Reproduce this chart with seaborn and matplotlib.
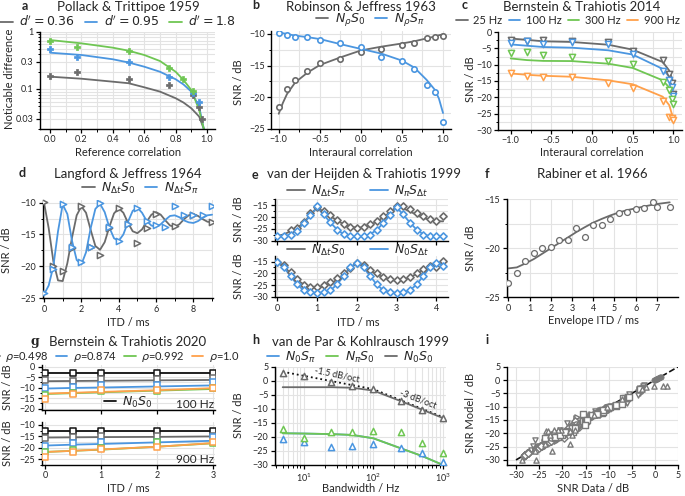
import matplotlib
matplotlib.use('Agg')
import matplotlib.pyplot as plt
import seaborn as sns
from matplotlib.lines import Line2D
from matplotlib.ticker import MultipleLocator, FixedLocator, LogLocator, NullFormatter

# ---------------- data ----------------
# a: Pollack & Trittipoe 1959
a_grey_x = [0.0, 0.17, 0.5, 0.76, 0.91, 0.95, 0.97]
a_grey_y = [0.169, 0.195, 0.151, 0.116, 0.0785, 0.049, 0.030]
a_blue_x = [0.0, 0.17, 0.5, 0.76, 0.91, 0.95]
a_blue_y = [0.493, 0.366, 0.292, 0.164, 0.084, 0.060]
a_green_x = [0.0, 0.17, 0.5, 0.76, 0.85, 0.91]
a_green_y = [0.689, 0.533, 0.466, 0.229, 0.148, 0.093]
a_line_x = [0.0, 0.2, 0.4, 0.5, 0.6, 0.7, 0.8, 0.85, 0.9, 0.95, 0.98]
a_grey_line = [0.164, 0.151, 0.134, 0.126, 0.107, 0.090, 0.069, 0.058, 0.046, 0.033, 0.020]
a_blue_line = [0.43, 0.392, 0.33, 0.29, 0.245, 0.20, 0.148, 0.12, 0.09, 0.049, 0.020]
a_green_line = [0.716, 0.626, 0.526, 0.466, 0.392, 0.308, 0.20, 0.144, 0.096, 0.043, 0.020]
a_labels = ["$d' = 0.36$", "$d' = 0.95$", "$d' = 1.8$"]

# b: Robinson & Jeffress 1963
b_x = [-1.0, -0.9, -0.8, -0.65, -0.5, -0.25, 0.0, 0.25, 0.5, 0.65, 0.8, 0.9, 1.0]
b_s0_data = [-21.5, -18.7, -17.3, -15.8, -14.6, -13.9, -12.9, -12.4, -11.8, -11.4, -10.7, -10.5, -10.3]
b_spi_data = [-9.9, -10.2, -10.5, -10.5, -10.9, -11.5, -12.1, -13.6, -14.25, -15.6, -18.1, -19.1, -23.9]
b_line_x = [-1.0, -0.95, -0.9, -0.8, -0.65, -0.5, -0.25, 0.0, 0.25, 0.5, 0.65, 0.8, 0.9, 0.95, 1.0]
b_s0_line = [-22.6, -20.9, -19.5, -17.66, -16.1, -14.9, -13.7, -12.6, -12.0, -11.5, -11.15, -10.7, -10.4, -10.2, -10.05]
b_spi_line = [-9.74, -9.87, -10.0, -10.26, -10.5, -10.8, -11.6, -12.36, -13.1, -14.2, -15.3, -17.24, -18.8, -20.2, -22.48]
b_labels = [r'$N_\rho S_0$', r'$N_\rho S_\pi$']

# c: Bernstein & Trahiotis 2014
c_x = [-1.0, -0.8, -0.6, -0.25, 0.2, 0.5, 0.87, 0.95, 0.98, 1.0]
c_25_data = [-2.5, -2.7, -2.3, -2.9, -3.1, -5.7, -8.7, -12.9, -15.5, -19.0]
c_100_data = [-3.4, -2.8, -3.6, -3.2, -3.6, -6.8, -11.9, -14.8, -16.8, -19.5]
c_300_data = [-6.3, -6.1, -7.1, -7.6, -9.0, -9.9, -15.4, -17.8, -20.5, -22.0]
c_900_data = [-12.5, -13.5, -13.7, -13.9, -15.5, -17.0, -21.1, -25.9, -26.4, -26.8]
c_25_line = [-2.0, -2.4, -2.85, -3.05, -3.9, -5.4, -9.2, -11.8, -14.0, -16.0]
c_100_line = [-3.8, -4.2, -4.6, -4.8, -5.6, -6.9, -11.3, -13.7, -16.0, -19.8]
c_300_line = [-8.1, -8.6, -8.85, -8.9, -9.7, -11.0, -14.8, -17.0, -18.8, -20.3]
c_900_line = [-12.7, -13.1, -13.4, -13.7, -14.8, -16.0, -19.8, -22.4, -24.9, -26.4]
c_labels = ['25 Hz', '100 Hz', '300 Hz', '900 Hz']

# d: Langford & Jeffress 1964
d_line_x = [0, 0.25, 0.5, 0.75, 1, 1.25, 1.5, 1.75, 2, 2.25, 2.5, 2.75, 3, 3.25, 3.5, 3.75,
            4, 4.25, 4.5, 4.75, 5, 5.25, 5.5, 5.75, 6, 6.25, 6.5, 6.75, 7, 7.25, 7.5, 7.75,
            8, 8.25, 8.5, 8.75, 9]
d_s0_line = [-10.0, -14.0, -19.2, -22.2, -22.3, -19.5, -15.5, -12.0, -10.6, -11.6, -14.3, -16.8,
             -17.4, -16.2, -13.8, -11.7, -10.9, -11.6, -13.2, -14.5, -14.8, -14.2, -13.0, -11.9,
             -11.5, -11.9, -12.8, -13.6, -13.8, -13.4, -12.6, -12.0, -11.8, -12.1, -12.6, -13.0, -13.1]
d_spi_line = [-24.4, -23.0, -20.0, -14.5, -10.3, -11.8, -16.0, -19.0, -19.7, -17.8, -14.0, -11.0,
              -10.2, -11.5, -13.9, -15.6, -16.0, -15.0, -13.0, -11.3, -10.8, -11.6, -12.9, -13.6,
              -13.8, -13.4, -12.7, -12.1, -12.0, -12.3, -12.8, -13.1, -13.2, -12.9, -12.4, -12.0, -11.9]
d_s0_x = [0, 0.5, 1, 1.5, 2, 2.5, 3, 3.5, 4, 4.5, 5, 5.5, 6, 7, 8, 9]
d_s0_data = [-9.9, -20.0, -20.8, -17.1, -10.6, -17.0, -18.2, -14.0, -10.9, -13.4, -16.3, -14.0,
             -11.8, -13.6, -12.0, -13.0]
d_spi_x = [0, 0.5, 1, 1.5, 2, 2.5, 3, 3.5, 4, 4.5, 5, 5.5, 6, 6.5, 7, 7.5, 8, 8.5, 9]
d_spi_data = [-24.2, -20.4, -10.3, -16.9, -19.3, -16.9, -10.1, -13.9, -16.0, -13.4, -10.8, -12.9,
              -13.5, -13.8, -10.6, -12.0, -12.0, -12.0, -10.6]
d_labels = [r'$N_{\Delta t}S_0$', r'$N_{\Delta t}S_\pi$']

# e: van der Heijden & Trahiotis 1999
e_x = [0.0, 0.167, 0.333, 0.5, 0.667, 0.833, 1.0, 1.167, 1.333, 1.5, 1.667, 1.833, 2.0, 2.167,
       2.333, 2.5, 2.667, 2.833, 3.0, 3.167, 3.333, 3.5, 3.667, 3.833, 4.0, 4.167]
e_up_blue_data = [-28, -28, -27.6, -25.7, -22.7, -19.2, -15.4, -18.8, -22.2, -25.3, -27.3, -28, -28,
                  -28, -27.4, -25.6, -22.6, -19.0, -15.5, -18.8, -22.3, -25.4, -27.4, -28, -28, -28]
e_up_blue_line = [-28.2, -28.1, -27.4, -25.5, -22.6, -19.3, -15.8, -18.9, -22.3, -25.2, -27.3, -28.1,
                  -28.2, -28.1, -27.3, -25.4, -22.5, -19.1, -15.8, -19.0, -22.3, -25.3, -27.3, -28.1,
                  -28.2, -28.2]
e_up_grey_data = [-25.6, -24.4, -21.9, -18.3, -15.9, -17.6, -19.3, -21.1, -23.0, -24.0, -24.4, -24.1,
                  -23.0, -21.6, -19.7, -17.6, -15.1, -15.4, -16.4, -18.3, -19.7, -20.7, -21.6, -19.7]
e_up_grey_line = [-28.0, -27.3, -26.0, -24.6, -22.3, -19.0, -15.8, -17.8, -19.6, -21.4, -23.0, -24.0,
                  -24.5, -24.3, -23.3, -21.9, -20.0, -17.9, -15.5, -16.3, -17.6, -19.0, -20.3, -21.2,
                  -21.7, -21.8]
e_lo_blue_data = [-15.3, -17.3, -21.0, -24.7, -27.3, -28.0, -28.3, -28.0, -27.3, -24.7, -21.0, -17.3,
                  -15.5, -17.2, -21.0, -24.7, -27.3, -28.0, -28.3, -28.0, -27.3, -24.7, -21.0, -17.3,
                  -15.5, -16.7]
e_lo_blue_line = [-15.0, -17.5, -21.2, -24.8, -27.3, -28.2, -28.4, -28.2, -27.3, -24.8, -21.2, -17.5,
                  -15.3, -17.5, -21.2, -24.8, -27.3, -28.2, -28.4, -28.2, -27.3, -24.8, -21.2, -17.5,
                  -15.3, -16.8]
e_lo_grey_data = [-15.0, -16.5, -19.5, -22.5, -24.9, -25.7, -25.7, -25.0, -23.9, -21.9, -19.7, -17.7,
                  -15.7, -16.4, -18.6, -20.0, -21.4, -22.4, -22.9, -22.4, -21.4, -19.8, -18.2, -16.8,
                  -17.2, -14.9]
e_lo_grey_line = [-15.0, -17.0, -20.0, -22.8, -24.8, -25.9, -26.2, -25.7, -24.5, -22.7, -20.4, -17.9,
                  -15.6, -16.9, -18.7, -20.4, -21.8, -22.8, -23.2, -22.8, -21.8, -20.2, -18.4, -16.7,
                  -15.3, -15.8]
e_up_labels = [r'$N_{\Delta t}S_\pi$', r'$N_\pi S_{\Delta t}$']
e_lo_labels = [r'$N_{\Delta t}S_0$', r'$N_0 S_{\Delta t}$']

# f: Rabiner et al. 1966
f_x = [0, 0.4, 0.8, 1.2, 1.6, 2.0, 2.4, 2.8, 3.2, 3.6, 4.0, 4.4, 4.8, 5.2, 5.6, 6.0, 6.4, 6.8, 7.0, 7.6]
f_data = [-23.5, -22.5, -21.3, -20.5, -20.0, -19.9, -19.2, -19.2, -17.9, -18.8, -17.65, -17.65, -17.0,
          -16.4, -16.3, -15.95, -15.85, -15.3, -15.8, -15.8]
f_line = [-22.05, -21.95, -21.55, -21.1, -20.55, -20.0, -19.45, -18.9, -18.35, -17.85, -17.38, -17.0,
          -16.65, -16.35, -16.1, -15.92, -15.73, -15.55, -15.48, -15.31]

# g: Bernstein & Trahiotis 2020
g_x = [0, 0.5, 1, 2, 3]
g100_ref_data = [-3.2, -3.2, -3.2, -3.2, -3.2]
g100_ref_line = [-3.2, -3.2, -3.2, -3.2, -3.2]
g100_498_data = [-6.4, -6.9, -6.0, -5.8, -5.6]
g100_498_line = [-6.9, -6.8, -6.7, -6.5, -6.3]
g100_874_data = [-10.1, -9.8, -8.5, -8.5, -7.2]
g100_874_line = [-10.4, -10.1, -9.9, -9.4, -8.9]
g100_992_data = [-13.6, -12.6, -11.5, -11.4, -10.2]
g100_992_line = [-13.0, -12.6, -12.2, -11.4, -10.6]
g100_1_data = [-15.5, -12.8, -11.2, -11.2, -9.9]
g100_1_line = [-12.8, -12.4, -12.0, -11.2, -10.2]
g900_ref_data = [-12.6, -12.6, -12.6, -12.6, -12.6]
g900_ref_line = [-12.6, -12.6, -12.6, -12.6, -12.6]
g900_498_data = [-15.5, -15.2, -15.0, -14.8, -14.6]
g900_498_line = [-15.5, -15.4, -15.3, -15.2, -15.0]
g900_874_data = [-19.0, -18.0, -17.6, -17.3, -15.1]
g900_874_line = [-19.0, -18.6, -18.3, -17.6, -16.9]
g900_992_data = [-21.6, -21.0, -20.0, -17.6, -17.9]
g900_992_line = [-21.8, -21.3, -20.8, -19.5, -18.0]
g900_1_data = [-23.8, -21.6, -20.5, -19.5, -17.3]
g900_1_line = [-21.8, -21.3, -20.7, -19.5, -17.9]
g_labels = [r'$\rho$=0.498', r'$\rho$=0.874', r'$\rho$=0.992', r'$\rho$=1.0']

# h: van de Par & Kohlrausch 1999
h_x = [5, 10, 25, 50, 100, 250, 500, 1000]
h_n0s0_data = [2.6, 1.8, -0.3, -1.9, -2.9, -7.2, -10.4, -13.1]
h_n0s0_line = [-2.3, -2.3, -2.3, -2.5, -3.5, -7.3, -10.3, -13.3]
h_npis0_data = [-17.2, -20.3, -18.4, -18.4, -17.9, -18.4, -22.3, -25.6]
h_npis0_line = [-18.7, -18.8, -19.0, -19.3, -20.5, -24.1, -26.8, -30.0]
h_n0spi_data = [-20.9, -21.9, -23.5, -23.2, -22.6, -23.8, -25.8, -28.8]
h_n0spi_line = [-18.7, -18.8, -19.0, -19.3, -20.5, -24.1, -26.8, -30.0]
h_ref_x = [5, 100, 1000]
h_ref_y = [3.2, -3.0, -13.0]
h_labels = [r'$N_0 S_\pi$', r'$N_\pi S_0$', r'$N_0 S_0$']

# i: pooled model vs data (panel a part read separately)
i_a_data = [-0.2, 0.0, 0.2, 0.35, 0.5, 0.65, 0.8, 1.0, 1.2]
i_a_model = [-0.1, 0.1, 0.25, 0.35, 0.5, 0.6, 0.8, 0.95, 1.1]

# ---------------- style ----------------
sns.set_theme(style='ticks')
plt.rcParams['font.family'] = ['Lato', 'DejaVu Sans']
plt.rcParams['mathtext.fontset'] = 'dejavusans'
plt.rcParams['axes.unicode_minus'] = True

GREY = '#6b6b6b'
BLUE = '#4b96e0'
GREEN = '#6fc653'
ORANGE = '#ffa04a'
BLACK = '#111111'
IGREY = '#7a7a7a'

W, H = 685, 496
fig = plt.figure(figsize=(W / 100, H / 100), dpi=100)


def add_ax(x0, top, x1, bottom):
    ax = fig.add_axes([x0 / W, 1 - bottom / H, (x1 - x0) / W, (bottom - top) / H])
    sns.despine(ax=ax)
    for s in ['left', 'bottom']:
        ax.spines[s].set_linewidth(1.0)
        ax.spines[s].set_color('black')
    ax.grid(True, which='both', color='#e3e3e3', lw=0.8)
    ax.set_axisbelow(True)
    ax.tick_params(which='major', labelsize=6.5, length=3, width=0.9, color='black', pad=1.5)
    ax.tick_params(which='minor', length=1.8, width=0.7, color='black')
    return ax


def ftext(x, y, s, **kw):
    kw.setdefault('ha', 'center')
    kw.setdefault('va', 'center')
    fig.text(x / W, 1 - y / H, s, **kw)


def line(ax, x, y, c, ls='-', lw=1.3, z=2):
    sns.lineplot(x=x, y=y, ax=ax, color=c, lw=lw, ls=ls, estimator=None, sort=False,
                 zorder=z, legend=False)


def pts(ax, x, y, c, m, s=16, lw=1.1, fc='white', z=3):
    sns.scatterplot(x=x, y=y, ax=ax, marker=m, s=s, facecolor=fc, edgecolor=c,
                    linewidth=lw, zorder=z, legend=False)


def leg(colors, labels, cx, cy, fs=9, ncol=None, hl=1.0, cs=0.8):
    handles = [Line2D([0], [0], color=c, lw=1.3) for c in colors]
    fig.legend(handles, labels, loc='center', bbox_to_anchor=(cx / W, 1 - cy / H),
               ncol=ncol or len(labels), frameon=False, fontsize=fs, handlelength=hl,
               handletextpad=0.5, columnspacing=cs, borderpad=0, borderaxespad=0)


def at(xs, ys, xq):
    table = dict(zip(xs, ys))
    return [table[x] for x in xq]


TFS = 9.5  # title font size
LFS = 8    # label font size

# ---------------- panel a ----------------
ax = add_ax(40, 31.7, 215, 129)
ax.set_yscale('log')
line(ax, a_line_x, a_grey_line, GREY)
line(ax, a_line_x, a_blue_line, BLUE)
line(ax, a_line_x, a_green_line, GREEN)
pts(ax, a_grey_x, a_grey_y, GREY, 'P', s=22, lw=0.5, fc=GREY)
pts(ax, a_blue_x, a_blue_y, BLUE, 'P', s=22, lw=0.5, fc=BLUE)
pts(ax, a_green_x, a_green_y, GREEN, 'P', s=22, lw=0.5, fc=GREEN)
ax.set_xlim(-0.064, 1.051)
ax.set_ylim(0.02, 1.0)
ax.xaxis.set_major_locator(MultipleLocator(0.2))
ax.xaxis.set_minor_locator(MultipleLocator(0.1))
ax.yaxis.set_major_locator(FixedLocator([0.03, 0.1, 0.3, 1]))
ax.set_yticklabels(['0.03', '0.1', '0.3', '1'])
ax.yaxis.set_minor_locator(LogLocator(subs=[2, 3, 4, 5, 6, 7, 8, 9]))
ax.yaxis.set_minor_formatter(NullFormatter())
ax.set_xlabel('')
ax.set_ylabel('')
ftext(128, 7, 'Pollack & Trittipoe 1959', fontsize=TFS)
leg([GREY, BLUE, GREEN], a_labels, 118, 21)
ftext(25, 6, 'a', fontsize=9, fontweight='bold')
ftext(10, 79, 'Noticable difference', fontsize=LFS, rotation=90)
ftext(128, 153, 'Reference correlation', fontsize=LFS)

# ---------------- panel b ----------------
ax = add_ax(271, 31, 451, 129)
line(ax, b_line_x, b_s0_line, GREY)
line(ax, b_line_x, b_spi_line, BLUE)
pts(ax, b_x, b_s0_data, GREY, 'o', s=15, lw=1.2)
pts(ax, b_x, b_spi_data, BLUE, 'o', s=15, lw=1.2)
ax.set_xlim(-1.094, 1.097)
ax.set_ylim(-25, -9.53)
ax.xaxis.set_major_locator(MultipleLocator(0.5))
ax.xaxis.set_minor_locator(MultipleLocator(0.25))
ax.yaxis.set_major_locator(MultipleLocator(5))
ax.yaxis.set_minor_locator(MultipleLocator(2.5))
ftext(361, 7, 'Robinson & Jeffress 1963', fontsize=TFS)
leg([GREY, BLUE], b_labels, 370, 20)
ftext(256, 5, 'b', fontsize=9, fontweight='bold')
ftext(238, 82, 'SNR / dB', fontsize=LFS, rotation=90)
ftext(361, 153, 'Interaural correlation', fontsize=LFS)

# ---------------- panel c ----------------
ax = add_ax(498, 32, 682, 130)
for yl, c in [(c_25_line, GREY), (c_100_line, BLUE), (c_300_line, GREEN), (c_900_line, ORANGE)]:
    line(ax, c_x, yl, c)
for yd, c in [(c_25_data, GREY), (c_100_data, BLUE), (c_300_data, GREEN), (c_900_data, ORANGE)]:
    pts(ax, c_x, yd, c, 'v', s=20, lw=1.1)
ax.set_xlim(-1.156, 1.107)
ax.set_ylim(-30, 0)
ax.xaxis.set_major_locator(MultipleLocator(0.5))
ax.xaxis.set_minor_locator(MultipleLocator(0.25))
ax.yaxis.set_major_locator(MultipleLocator(5))
ax.yaxis.set_minor_locator(MultipleLocator(2.5))
ftext(582, 7, 'Bernstein & Trahiotis 2014', fontsize=TFS)
leg([GREY, BLUE, GREEN, ORANGE], c_labels, 568, 20, fs=8, cs=0.6)
ftext(465, 5, 'c', fontsize=9, fontweight='bold')
ftext(471, 79, 'SNR / dB', fontsize=LFS, rotation=90)
ftext(592, 153, 'Interaural correlation', fontsize=LFS)

# ---------------- panel d ----------------
ax = add_ax(42.7, 200, 213, 298.3)
line(ax, d_line_x, d_s0_line, GREY)
line(ax, d_line_x, d_spi_line, BLUE)
pts(ax, d_s0_x, d_s0_data, GREY, '>', s=20, lw=1.1)
pts(ax, d_spi_x, d_spi_data, BLUE, '>', s=20, lw=1.1)
ax.set_xlim(-0.07, 9.05)
ax.set_ylim(-25, -9.6)
ax.xaxis.set_major_locator(MultipleLocator(2))
ax.xaxis.set_minor_locator(MultipleLocator(1))
ax.yaxis.set_major_locator(MultipleLocator(5))
ax.yaxis.set_minor_locator(MultipleLocator(2.5))
ftext(128, 174, 'Langford & Jeffress 1964', fontsize=TFS)
leg([GREY, BLUE], d_labels, 140, 188)
ftext(22, 173, 'd', fontsize=9, fontweight='bold')
ftext(7, 250, 'SNR / dB', fontsize=LFS, rotation=90)
ftext(128, 322, 'ITD / ms', fontsize=LFS)

# ---------------- panel e ----------------
ax = add_ax(274.7, 199, 448, 241.4)
line(ax, e_x, e_up_grey_line, GREY)
line(ax, e_x, e_up_blue_line, BLUE)
pts(ax, e_x[2:], e_up_grey_data, GREY, 'D', s=13, lw=1.2)
pts(ax, e_x, e_up_blue_data, BLUE, 'D', s=13, lw=1.2)
ax.set_xlim(-0.065, 4.29)
ax.set_ylim(-30.3, -12.3)
ax.xaxis.set_major_locator(MultipleLocator(1))
ax.yaxis.set_major_locator(MultipleLocator(5))
ax.yaxis.set_minor_locator(MultipleLocator(2.5))
ax.tick_params(labelbottom=False)
ax = add_ax(274.7, 256, 448, 297.4)
line(ax, e_x, e_lo_grey_line, GREY)
line(ax, e_x, e_lo_blue_line, BLUE)
pts(ax, e_x, e_lo_grey_data, GREY, 'D', s=13, lw=1.2)
pts(ax, e_x, e_lo_blue_data, BLUE, 'D', s=13, lw=1.2)
ax.set_xlim(-0.065, 4.29)
ax.set_ylim(-30.3, -12.6)
ax.xaxis.set_major_locator(MultipleLocator(1))
ax.yaxis.set_major_locator(MultipleLocator(5))
ax.yaxis.set_minor_locator(MultipleLocator(2.5))
ftext(364, 174, 'van der Heijden & Trahiotis 1999', fontsize=TFS)
leg([GREY, BLUE], e_up_labels, 358, 191, cs=2.0, hl=1.4)
leg([GREY, BLUE], e_lo_labels, 358, 250, cs=2.0, hl=1.4)
ftext(255, 175, 'e', fontsize=9, fontweight='bold')
ftext(238, 219, 'SNR / dB', fontsize=LFS, rotation=90)
ftext(238, 276, 'SNR / dB', fontsize=LFS, rotation=90)
ftext(358, 322, 'ITD / ms', fontsize=LFS)

# ---------------- panel f ----------------
ax = add_ax(506.7, 199.3, 678, 297.3)
line(ax, f_x, f_line, GREY)
pts(ax, f_x, f_data, GREY, 'o', s=18, lw=0.9)
ax.set_xlim(-0.075, 7.99)
ax.set_ylim(-25, -15)
ax.xaxis.set_major_locator(MultipleLocator(1))
ax.yaxis.set_major_locator(MultipleLocator(5))
ax.yaxis.set_minor_locator(MultipleLocator(2.5))
ftext(592, 174, 'Rabiner et al. 1966', fontsize=TFS)
ftext(487, 174, 'f', fontsize=9, fontweight='bold')
ftext(471, 248, 'SNR / dB', fontsize=LFS, rotation=90)
ftext(593, 320, 'Envelope ITD / ms', fontsize=LFS)

# ---------------- panel g ----------------
g_series_100 = [(g100_ref_line, g100_ref_data, BLACK), (g100_498_line, g100_498_data, GREY),
                (g100_874_line, g100_874_data, BLUE), (g100_992_line, g100_992_data, GREEN),
                (g100_1_line, g100_1_data, ORANGE)]
g_series_900 = [(g900_ref_line, g900_ref_data, BLACK), (g900_498_line, g900_498_data, GREY),
                (g900_874_line, g900_874_data, BLUE), (g900_992_line, g900_992_data, GREEN),
                (g900_1_line, g900_1_data, ORANGE)]
for (top, bot, ylim, series, lab) in [(365, 410, (-20.6, 0.8), g_series_100, '100 Hz'),
                                       (421.7, 465, (-27.5, -8.56), g_series_900, '900 Hz')]:
    ax = add_ax(41.7, top, 215, bot)
    for yl, yd, c in series:
        line(ax, g_x, yl, c)
    for yl, yd, c in series:
        pts(ax, g_x, yd, c, 's', s=15, lw=1.1)
    ax.set_xlim(-0.059, 3.03)
    ax.set_ylim(*ylim)
    ax.xaxis.set_major_locator(MultipleLocator(1))
    ax.yaxis.set_major_locator(MultipleLocator(5))
    ax.yaxis.set_minor_locator(MultipleLocator(2.5))
    if lab == '100 Hz':
        ax.tick_params(labelbottom=False)
    ax.text(0.995, 0.12, lab, transform=ax.transAxes, ha='right', va='center', fontsize=8.5)
ftext(128, 342, 'Bernstein & Trahiotis 2020', fontsize=TFS)
leg([GREY, BLUE, GREEN, ORANGE], g_labels, 114, 357, fs=8, cs=0.7)
leg([BLACK], [r'$N_0 S_0$'], 128, 402)
ftext(35, 342, 'g', fontsize=9, fontweight='bold', family='DejaVu Serif')
ftext(8, 387, 'SNR / dB', fontsize=LFS, rotation=90)
ftext(8, 443, 'SNR / dB', fontsize=LFS, rotation=90)
ftext(128, 488, 'ITD / ms', fontsize=LFS)

# ---------------- panel h ----------------
ax = add_ax(274.7, 366.7, 446, 465)
ax.set_xscale('log')
line(ax, h_ref_x, h_ref_y, BLACK, ls=':', lw=1.3, z=2)
line(ax, h_x, h_n0spi_line, BLUE)
line(ax, h_x, h_npis0_line, GREEN)
line(ax, h_x, h_n0s0_line, GREY)
pts(ax, h_x, h_n0spi_data, BLUE, '^', s=20, lw=1.1)
pts(ax, h_x, h_npis0_data, GREEN, '^', s=20, lw=1.1)
pts(ax, h_x, h_n0s0_data, GREY, '^', s=20, lw=1.1)
ax.text(30, 2.0, '-1.5 dB/oct', rotation=-12, fontsize=6.5, ha='center', va='center')
ax.text(437, -6.5, '-3 dB/oct', rotation=-21, fontsize=6.5, ha='center', va='center')
ax.set_xlim(3.84, 1101)
ax.set_ylim(-30, 5)
ax.yaxis.set_major_locator(MultipleLocator(5))
ax.xaxis.set_minor_locator(LogLocator(subs=[2, 3, 4, 5, 6, 7, 8, 9]))
ax.xaxis.set_minor_formatter(NullFormatter())
ftext(360, 342, 'van de Par & Kohlrausch 1999', fontsize=TFS)
leg([BLUE, GREEN, GREY], h_labels, 350, 357)
ftext(256, 340, 'h', fontsize=9, fontweight='bold')
ftext(239, 415, 'SNR / dB', fontsize=LFS, rotation=90)
ftext(361, 488, 'Bandwidth / Hz', fontsize=LFS)

# ---------------- panel i ----------------
ax = add_ax(506.7, 366.7, 678.3, 465)
line(ax, [-30, 5], [-30, 5], BLACK, ls='--', lw=1.2, z=1)
i_sets = [
    (b_s0_data + b_spi_data, at(b_line_x, b_s0_line, b_x) + at(b_line_x, b_spi_line, b_x), 'o'),
    (c_25_data + c_100_data + c_300_data + c_900_data,
     c_25_line + c_100_line + c_300_line + c_900_line, 'v'),
    (d_s0_data + d_spi_data, at(d_line_x, d_s0_line, d_s0_x) + at(d_line_x, d_spi_line, d_spi_x), '>'),
    (e_up_grey_data + e_up_blue_data + e_lo_grey_data + e_lo_blue_data,
     at(e_x, e_up_grey_line, e_x[2:]) + e_up_blue_line + e_lo_grey_line + e_lo_blue_line, 'D'),
    (f_data, f_line, 'o'),
    (g100_ref_data + g100_498_data + g100_874_data + g100_992_data + g100_1_data +
     g900_ref_data + g900_498_data + g900_874_data + g900_992_data + g900_1_data,
     g100_ref_line + g100_498_line + g100_874_line + g100_992_line + g100_1_line +
     g900_ref_line + g900_498_line + g900_874_line + g900_992_line + g900_1_line, 's'),
    (h_n0s0_data + h_npis0_data + h_n0spi_data, h_n0s0_line + h_npis0_line + h_n0spi_line, '^'),
]
for xd, ym, m in i_sets:
    pts(ax, xd, ym, IGREY, m, s=14, lw=1.0)
pts(ax, i_a_data, i_a_model, IGREY, 'o', s=14, lw=0.6, fc=IGREY)
ax.set_xlim(-32.0, 5.0)
ax.set_ylim(-31.9, 5)
ax.xaxis.set_major_locator(MultipleLocator(5))
ax.yaxis.set_major_locator(MultipleLocator(5))
ftext(487, 340, 'i', fontsize=9, fontweight='bold')
ftext(471, 413, 'SNR Model / dB', fontsize=LFS, rotation=90)
ftext(593, 488, 'SNR Data / dB', fontsize=LFS)

fig.savefig('out.png', dpi=100)
